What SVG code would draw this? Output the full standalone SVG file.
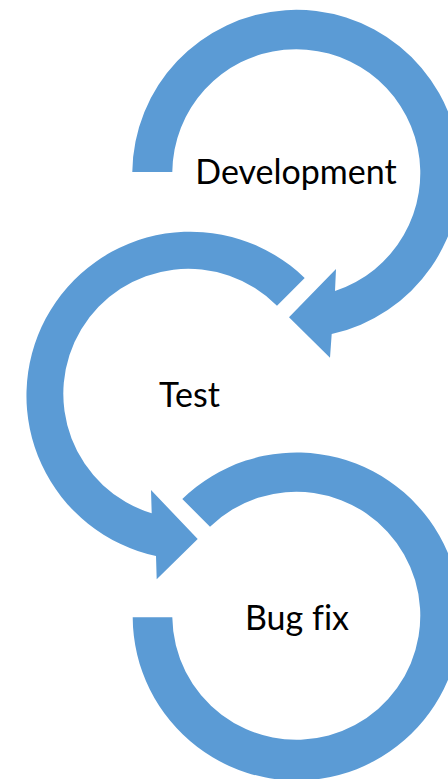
<svg xmlns="http://www.w3.org/2000/svg" width="448" height="779" viewBox="0 0 448 779">
  <style>
    .arrow { fill: #5B9BD5; stroke: none; }
    .label { font-family: Lato, "Open Sans", "Liberation Sans", sans-serif; font-size: 34px; fill: #000000; text-anchor: middle; font-variant-ligatures: none; font-feature-settings: "liga" 0; }
  </style>
  <rect x="0" y="0" width="448" height="779" fill="#FFFFFF"/>
  <g id="connectors">
  </g>
  <g id="node-development">
    <path class="arrow" d="M 132.3 172 A 164 164 0 1 1 331.7 334 L 330 357.7 L 289 317.3 L 336 269 L 335 291 A 124 124 0 1 0 172.3 172 Z"/>
    <text class="label" x="296" y="184">Development</text>
  </g>
  <g id="node-test">
    <path class="arrow" d="M 304.7 278 A 164 164 0 1 0 156 556 L 156.7 579.3 L 197.7 539 L 151 490 L 151.7 513.3 A 125 125 0 1 1 277 305.7 Z"/>
    <text class="label" x="189.5" y="407.3">Test</text>
  </g>
  <g id="node-bugfix">
    <path class="arrow" d="M 182.3 499 A 164 164 0 1 1 132.7 617.3 L 172.3 617.3 A 124 124 0 1 0 210 526.7 Z"/>
    <text class="label" x="297" y="630">Bug fix</text>
  </g>
</svg>
